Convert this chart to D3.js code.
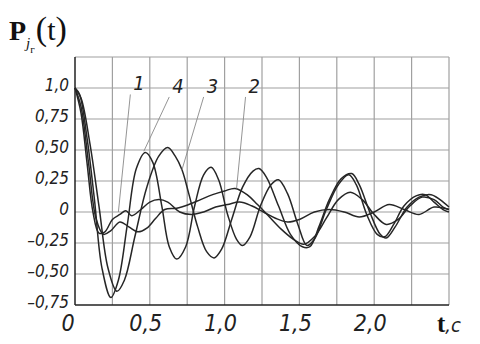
<!DOCTYPE html>
<head>
  <meta charset="utf-8" />
  <script src="https://d3js.org/d3.v7.min.js"></script>
  <style>
    body { margin: 0; background: #fff; }
    .tick-lbl { font-family: "Liberation Sans Narrow", "DejaVu Sans Condensed", sans-serif; font-style: italic; fill: #222; }
  </style>
</head>
<body>
  <script>
    // time values (s) and responses
    var xTicks = [0, 0.5, 1.0, 1.5, 2.0];
    var xTickLabels = ["0", "0,5", "1,0", "1,5", "2,0"];
    var yTicks = [1.0, 0.75, 0.5, 0.25, 0, -0.25, -0.5, -0.75];
    var yTickLabels = ["1,0", "0,75", "0,50", "0,25", "0", "\u20130,25", "\u20130,50", "\u20130,75"];

    var curve1 = [[0,1.0],[0.04,0.8],[0.08,0.4],[0.12,0.0],[0.16,-0.17],[0.2,-0.16],[0.25,-0.06],[0.3,-0.02],[0.34,0.01],[0.38,-0.03],[0.44,0.02],[0.5,0.08],[0.56,0.1],[0.62,0.08],[0.7,0.0],[0.78,-0.02],[0.86,0.0],[0.94,0.04],[1.02,0.06],[1.1,0.08],[1.18,0.05],[1.26,0.0],[1.34,-0.05],[1.42,-0.08],[1.5,-0.06],[1.6,0.0],[1.7,0.02],[1.8,0.0],[1.9,-0.04],[2.0,0.0],[2.1,0.06],[2.2,0.02],[2.3,-0.02],[2.4,0.04],[2.5,0.02]];
    var curve2 = [[0,1.0],[0.04,0.85],[0.09,0.4],[0.14,-0.05],[0.19,-0.18],[0.24,-0.15],[0.3,-0.08],[0.36,-0.12],[0.42,-0.16],[0.48,-0.13],[0.54,-0.05],[0.6,0.02],[0.68,0.03],[0.76,0.06],[0.84,0.1],[0.92,0.14],[1.0,0.17],[1.07,0.19],[1.15,0.14],[1.22,0.06],[1.3,-0.04],[1.38,-0.14],[1.46,-0.22],[1.53,-0.26],[1.6,-0.2],[1.68,-0.05],[1.76,0.1],[1.84,0.16],[1.92,0.1],[2.0,-0.02],[2.08,-0.1],[2.16,-0.06],[2.24,0.05],[2.32,0.12],[2.4,0.1],[2.46,0.04],[2.5,0.02]];
    var curve3 = [[0,1.0],[0.04,0.92],[0.1,0.55],[0.16,0.05],[0.22,-0.45],[0.28,-0.64],[0.33,-0.55],[0.4,-0.2],[0.48,0.2],[0.56,0.45],[0.62,0.52],[0.67,0.45],[0.715,0.34],[0.76,0.15],[0.82,-0.12],[0.88,-0.32],[0.93,-0.37],[0.98,-0.3],[1.05,-0.05],[1.12,0.2],[1.19,0.33],[1.23,0.35],[1.28,0.28],[1.36,0.05],[1.44,-0.18],[1.52,-0.28],[1.57,-0.28],[1.63,-0.12],[1.7,0.1],[1.78,0.27],[1.85,0.31],[1.9,0.22],[1.97,0.0],[2.04,-0.18],[2.08,-0.21],[2.14,-0.12],[2.22,0.04],[2.3,0.12],[2.38,0.14],[2.44,0.1],[2.5,0.04]];
    var curve4 = [[0,1.0],[0.03,0.95],[0.08,0.6],[0.13,0.1],[0.18,-0.45],[0.24,-0.69],[0.29,-0.55],[0.35,-0.1],[0.41,0.35],[0.47,0.48],[0.52,0.4],[0.58,0.05],[0.63,-0.28],[0.68,-0.38],[0.74,-0.28],[0.8,0.05],[0.86,0.3],[0.91,0.36],[0.96,0.26],[1.02,-0.02],[1.08,-0.22],[1.12,-0.27],[1.17,-0.2],[1.24,0.05],[1.31,0.22],[1.36,0.26],[1.42,0.15],[1.49,-0.1],[1.55,-0.27],[1.6,-0.22],[1.68,0.02],[1.76,0.22],[1.83,0.3],[1.88,0.22],[1.95,-0.02],[2.02,-0.18],[2.07,-0.2],[2.13,-0.1],[2.2,0.05],[2.28,0.13],[2.34,0.14],[2.4,0.08],[2.46,0.02],[2.5,0.0]];

    // curve labels: name, label position (t, v), point on curve the leader goes to (t, v)
    var curveNames = ["1", "4", "3", "2"];
    var labelAt = [[0.39, 0.98], [0.65, 0.96], [0.88, 0.96], [1.16, 0.96]];
    var leaderTo = [[0.29, 0.0], [0.46, 0.49], [0.715, 0.34], [1.08, 0.19]];

    var width = 480, height = 344;
    var svg = d3.select("body").append("svg").attr("width", width).attr("height", height);

    var x = d3.scaleLinear().domain([0, 2.5]).range([75, 449]);
    var y = d3.scaleLinear().domain([-0.75, 1.25]).range([305, 57]);

    // grid
    var g = svg.append("g");
    g.selectAll(".vg").data(d3.range(1, 11).map(d => d * 0.25)).enter().append("line")
      .attr("x1", d => x(d)).attr("x2", d => x(d)).attr("y1", y(-0.75)).attr("y2", y(1.25))
      .attr("stroke", "#a0a0a0").attr("stroke-width", 1.2);
    g.selectAll(".hg").data(d3.range(-2, 6).map(d => d * 0.25)).enter().append("line")
      .attr("x1", x(0)).attr("x2", x(2.5)).attr("y1", d => y(d)).attr("y2", d => y(d))
      .attr("stroke", "#a0a0a0").attr("stroke-width", 1.2);
    // axes
    g.append("line").attr("x1", x(0)).attr("x2", x(0)).attr("y1", y(-0.75)).attr("y2", y(1.25))
      .attr("stroke", "#222").attr("stroke-width", 1.5);
    g.append("line").attr("x1", x(0)).attr("x2", x(2.5)).attr("y1", y(-0.75)).attr("y2", y(-0.75))
      .attr("stroke", "#222").attr("stroke-width", 1.5);

    // tick labels
    svg.selectAll(".yl").data(yTicks).enter().append("text").attr("class", "tick-lbl")
      .attr("x", 69).attr("y", d => y(d) + 3).attr("text-anchor", "end")
      .attr("font-size", 17).text((d, i) => yTickLabels[i]);
    svg.selectAll(".xl").data(xTicks).enter().append("text").attr("class", "tick-lbl")
      .attr("x", (d, i) => i == 0 ? x(d) - 7 : x(d) - 4).attr("y", 331).attr("text-anchor", "middle")
      .attr("font-size", 23).text((d, i) => xTickLabels[i]);

    // curves
    var line = d3.line().x(d => x(d[0])).y(d => y(d[1])).curve(d3.curveCatmullRom.alpha(0.5));
    svg.selectAll(".crv").data([curve1, curve2, curve3, curve4]).enter().append("path")
      .attr("d", line).attr("fill", "none").attr("stroke", "#262626").attr("stroke-width", 1.5);

    // leaders and curve numbers
    svg.selectAll(".ld").data(curveNames).enter().append("line")
      .attr("x1", (d, i) => x(labelAt[i][0]) - 3).attr("y1", (d, i) => y(labelAt[i][1]) + 4)
      .attr("x2", (d, i) => x(leaderTo[i][0])).attr("y2", (d, i) => y(leaderTo[i][1]))
      .attr("stroke", "#888").attr("stroke-width", 0.9);
    svg.selectAll(".cn").data(curveNames).enter().append("text").attr("class", "tick-lbl")
      .attr("x", (d, i) => x(labelAt[i][0])).attr("y", (d, i) => y(labelAt[i][1]))
      .attr("font-size", 20).text(d => d);

    // title P_{jг}(t)
    var title = svg.append("text").attr("x", 9).attr("y", 40)
      .attr("font-family", "Liberation Serif, DejaVu Serif, serif").attr("fill", "#111");
    title.append("tspan").attr("font-size", 28).attr("font-weight", "bold").text("P");
    title.append("tspan").attr("font-size", 15).attr("font-style", "italic").attr("dy", 8).text("j");
    title.append("tspan").attr("font-size", 11).attr("dy", 5).text("г");
    title.append("tspan").attr("font-size", 34).attr("dy", -13).attr("dx", 1).text("(");
    title.append("tspan").attr("font-size", 30).text("t");
    title.append("tspan").attr("font-size", 34).text(")");

    // x axis name
    var xn = svg.append("text").attr("x", 437).attr("y", 332).attr("fill", "#111");
    xn.append("tspan").attr("font-family", "Liberation Serif, serif").attr("font-weight", "bold").attr("font-size", 25).text("t");
    xn.append("tspan").attr("class", "tick-lbl").attr("font-size", 20).text(",c");
  </script>
</body>
